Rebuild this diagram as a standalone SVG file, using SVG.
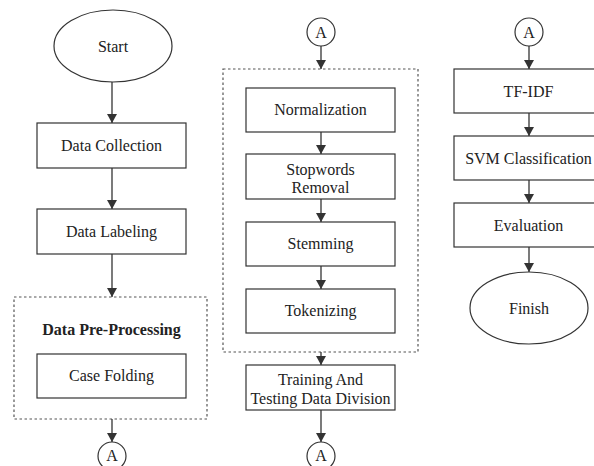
<svg xmlns="http://www.w3.org/2000/svg" width="594" height="466" viewBox="0 0 594 466">
<defs>
<marker id="ah" markerWidth="10" markerHeight="10" refX="9" refY="5" orient="auto" markerUnits="userSpaceOnUse">
<path d="M0,0 L9,5 L0,10 Z" fill="#333"/>
</marker>
<style>
.box{fill:#fff;stroke:#333;stroke-width:1.2}
.grp{fill:none;stroke:#555;stroke-width:1.2;stroke-dasharray:2.5 2.5}
text{font-family:'Liberation Serif','DejaVu Serif',serif;font-size:16px;fill:#222;text-anchor:middle}
.b{font-weight:bold}
.ln{stroke:#333;stroke-width:1.3;fill:none;marker-end:url(#ah)}
</style>
</defs>
<rect width="594" height="466" fill="#fff"/>
<g id="groups">
<rect class="grp" x="14" y="297" width="193" height="122"/>
<rect class="grp" x="223" y="69" width="195" height="283"/>
</g>
<g id="connectors">
<line class="ln" x1="112" y1="82" x2="112" y2="123"/>
<line class="ln" x1="112" y1="168" x2="112" y2="209"/>
<line class="ln" x1="112" y1="254" x2="112" y2="297"/>
<line class="ln" x1="112" y1="419" x2="112" y2="442"/>
<line class="ln" x1="321" y1="46" x2="321" y2="69"/>
<line class="ln" x1="321" y1="132" x2="321" y2="154"/>
<line class="ln" x1="321" y1="199" x2="321" y2="222"/>
<line class="ln" x1="321" y1="266" x2="321" y2="289"/>
<line class="ln" x1="321" y1="352" x2="321" y2="365"/>
<line class="ln" x1="321" y1="410" x2="321" y2="442"/>
<line class="ln" x1="529" y1="46" x2="529" y2="69"/>
<line class="ln" x1="529" y1="113" x2="529" y2="136"/>
<line class="ln" x1="529" y1="180" x2="529" y2="203"/>
<line class="ln" x1="529" y1="247" x2="529" y2="272"/>
</g>
<g id="start"><ellipse class="box" cx="113" cy="46" rx="59" ry="36"/><text x="113" y="52" font-family="Liberation Serif, serif">Start</text></g>
<g id="data-collection"><rect class="box" x="37" y="123" width="149" height="45"/><text x="111.5" y="151" font-family="Liberation Serif, serif">Data Collection</text></g>
<g id="data-labeling"><rect class="box" x="37" y="209" width="149" height="45"/><text x="111.5" y="237" font-family="Liberation Serif, serif">Data Labeling</text></g>
<g id="pre-processing-label"><text class="b" x="111.5" y="335" font-family="Liberation Serif, serif">Data Pre-Processing</text></g>
<g id="case-folding"><rect class="box" x="37" y="354" width="149" height="44"/><text x="111.5" y="381" font-family="Liberation Serif, serif">Case Folding</text></g>
<g id="a1"><circle class="box" cx="112" cy="456" r="14"/><text x="112" y="461" font-family="Liberation Serif, serif">A</text></g>
<g id="a2"><circle class="box" cx="321" cy="32" r="14"/><text x="321" y="38" font-family="Liberation Serif, serif">A</text></g>
<g id="normalization"><rect class="box" x="246" y="88" width="149" height="44"/><text x="320.5" y="115" font-family="Liberation Serif, serif">Normalization</text></g>
<g id="stopwords"><rect class="box" x="246" y="154" width="149" height="45"/><text x="320.5" y="175" font-family="Liberation Serif, serif">Stopwords</text><text x="320.5" y="193" font-family="Liberation Serif, serif">Removal</text></g>
<g id="stemming"><rect class="box" x="246" y="222" width="149" height="44"/><text x="320.5" y="249" font-family="Liberation Serif, serif">Stemming</text></g>
<g id="tokenizing"><rect class="box" x="246" y="289" width="149" height="44"/><text x="320.5" y="316" font-family="Liberation Serif, serif">Tokenizing</text></g>
<g id="training"><rect class="box" x="246" y="365" width="149" height="45"/><text x="320.5" y="385" font-family="Liberation Serif, serif">Training And</text><text x="320.5" y="404" font-family="Liberation Serif, serif">Testing Data Division</text></g>
<g id="a3"><circle class="box" cx="321" cy="456" r="14"/><text x="321" y="461" font-family="Liberation Serif, serif">A</text></g>
<g id="a4"><circle class="box" cx="529" cy="32" r="14"/><text x="529" y="38" font-family="Liberation Serif, serif">A</text></g>
<g id="tfidf"><rect class="box" x="454" y="69" width="149" height="44"/><text x="528.5" y="97" font-family="Liberation Serif, serif">TF-IDF</text></g>
<g id="svm"><rect class="box" x="454" y="136" width="149" height="44"/><text x="528.5" y="164" font-family="Liberation Serif, serif">SVM Classification</text></g>
<g id="evaluation"><rect class="box" x="454" y="203" width="149" height="44"/><text x="528.5" y="231" font-family="Liberation Serif, serif">Evaluation</text></g>
<g id="finish"><ellipse class="box" cx="529" cy="308" rx="59" ry="36"/><text x="529" y="314" font-family="Liberation Serif, serif">Finish</text></g>
</svg>
